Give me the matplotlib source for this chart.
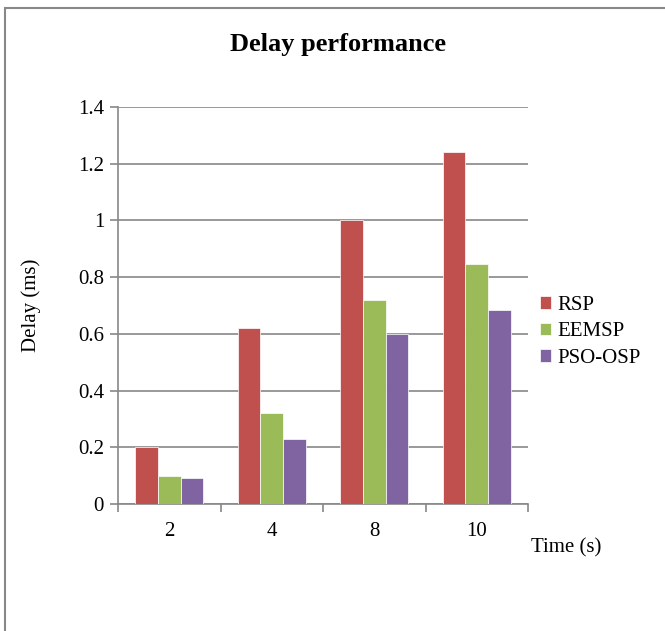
import matplotlib
matplotlib.use('Agg')
import matplotlib.pyplot as plt
import numpy as np
from matplotlib.patches import Rectangle

# data
times = ['2', '4', '8', '10']
rsp = [0.20, 0.62, 1.00, 1.24]
eemsp = [0.10, 0.32, 0.72, 0.845]
pso_osp = [0.09, 0.23, 0.60, 0.685]
series = ['RSP', 'EEMSP', 'PSO-OSP']
colors = ['#C0504D', '#9BBB59', '#8064A2']

plt.rcParams['font.family'] = ['Liberation Serif', 'DejaVu Serif']

fig = plt.figure(figsize=(6.65, 6.31), dpi=100)
W, H = 665, 631
fs = 15

# chart border (extends past the right and bottom edges)
fig.patches.append(Rectangle((5 / W, -0.1), 1.2, 1.1 - 8 / H, transform=fig.transFigure,
                             fill=False, edgecolor='#888888', linewidth=1.5))

ax = fig.add_axes([118 / W, 1 - 504 / H, 410 / W, (504 - 107) / H])

x = np.arange(len(times))
w = 0.222
for i, (vals, name, c) in enumerate(zip([rsp, eemsp, pso_osp], series, colors)):
    ax.bar(x + (i - 1) * w, vals, width=w, color=c, edgecolor='white', linewidth=0.5,
           label=name, zorder=3)

ax.set_xlim(-0.5, 3.5)
ax.set_ylim(0, 1.4)
ax.set_yticks(np.arange(0, 1.41, 0.2))
ax.set_yticklabels(['0', '0.2', '0.4', '0.6', '0.8', '1', '1.2', '1.4'])
ax.yaxis.grid(True, color='#888888', linewidth=1.2, zorder=0)
ax.set_axisbelow(True)

# category ticks at the boundaries, labels centered
ax.set_xticks(np.arange(-0.5, 4, 1))
ax.set_xticklabels([])
ax.set_xticks(x, minor=True)
ax.set_xticklabels(times, minor=True)
ax.tick_params(axis='x', which='major', length=6, width=1.2, color='#888888', direction='out')
ax.tick_params(axis='x', which='minor', length=0, pad=13, labelsize=fs)
ax.tick_params(axis='y', length=6, width=1.2, color='#888888', direction='out', pad=4, labelsize=fs)

for s in ['top', 'right']:
    ax.spines[s].set_visible(False)
for s in ['left', 'bottom']:
    ax.spines[s].set_color('#888888')
    ax.spines[s].set_linewidth(1.2)

fig.text(31 / W, 1 - 305 / H, 'Delay (ms)', rotation=90, ha='center', va='center', fontsize=fs)
fig.text(531 / W, 1 - 548 / H, 'Time (s)', ha='left', va='center', fontsize=fs)
fig.text(338 / W, 1 - 44 / H, 'Delay performance', ha='center', va='center',
         fontsize=19, fontweight='bold')

fig.legend(loc='center left', bbox_to_anchor=(540 / W, 1 - 332 / H), frameon=False,
           fontsize=fs, handlelength=0.55, handleheight=0.55, handletextpad=0.3,
           labelspacing=0.36, borderpad=0, borderaxespad=0)

plt.savefig('out.png', dpi=100)
